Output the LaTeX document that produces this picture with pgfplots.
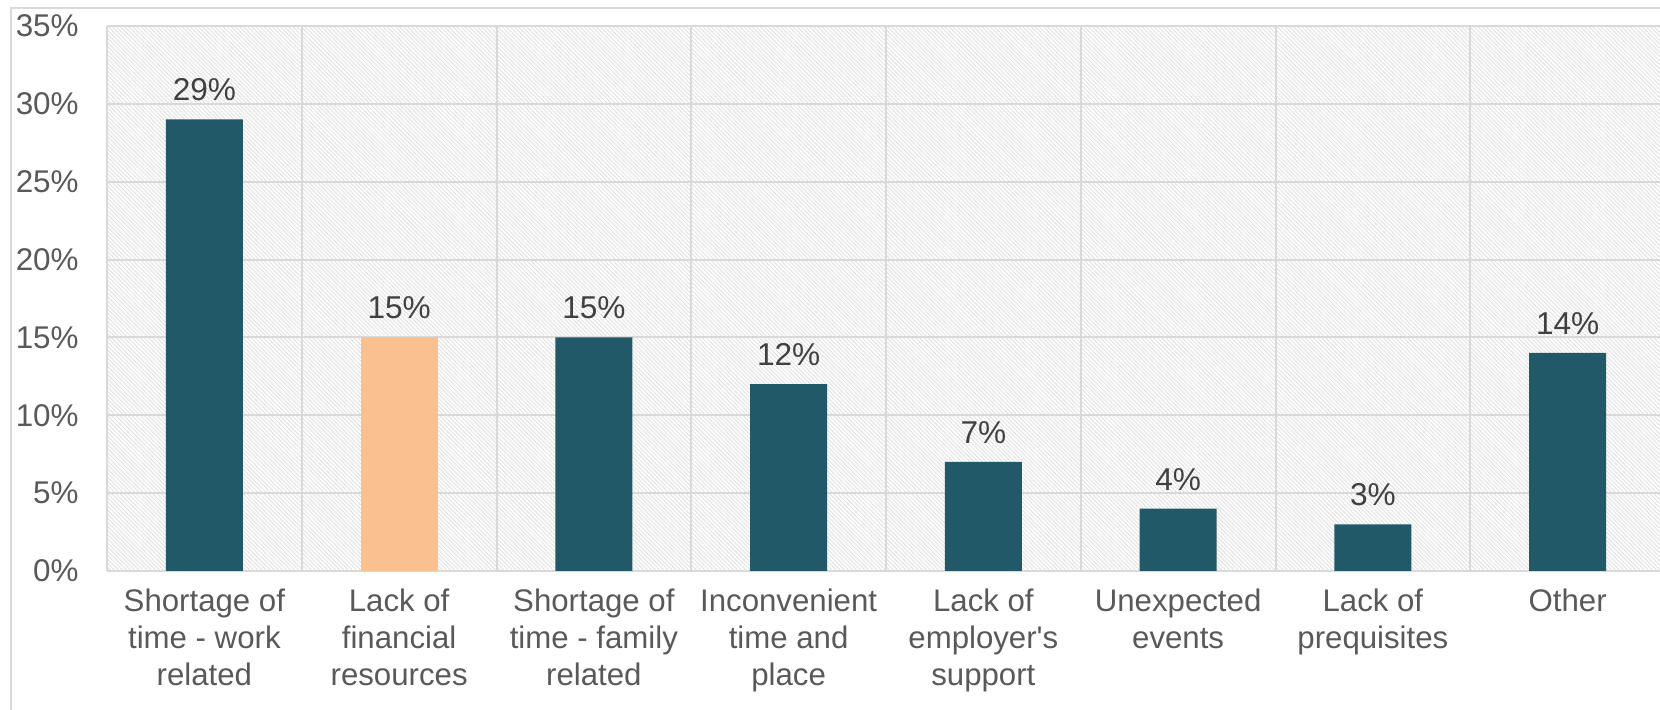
\documentclass[border=0pt]{standalone}
\usepackage{pgfplots}
\pgfplotsset{compat=1.18}
\usepackage{fontspec}
\setmainfont{Liberation Sans}
\newfontfamily\plainfont{Liberation Sans}
\usetikzlibrary{patterns.meta}
\definecolor{barteal}{HTML}{215968}
\definecolor{barorange}{HTML}{FAC090}
\definecolor{txtgray}{HTML}{595959}
\definecolor{lblgray}{HTML}{404040}
\definecolor{gridgray}{HTML}{D9D9D9}
\definecolor{hatchgray}{HTML}{E2E2E2}
\begin{document}
\begin{tikzpicture}[x=1pt,y=1pt]
\useasboundingbox (0,0) rectangle (830,355);
\draw[gridgray, line width=1pt] (5.5,-20) rectangle (850,351);
\begin{axis}[
  at={(53.5pt,69.5pt)}, anchor=south west,
  scale only axis, width=779pt, height=272.5pt,
  ymin=0, ymax=35, xmin=-0.5, xmax=7.5,
  enlargelimits=false,
  ybar, bar width=38.5pt, bar shift=0pt,
  axis background/.style={pattern={Lines[angle=-45,distance=1.45pt,line width=0.5pt]}, pattern color=hatchgray},
  ytick={0,5,...,35},
  yticklabel={\pgfmathprintnumber{\tick}\%},
  /pgf/number format/assume math mode=true,
  xtick={0,...,7},
  xticklabels={{Shortage of\\time - work\\related},{Lack of\\financial\\resources},{Shortage of\\time - family\\related},{Inconvenient\\time and\\place},{Lack of\\employer{\plainfont '}s\\support},{Unexpected\\events},{Lack of\\prequisites},{Other}},
  minor xtick={-0.5,0.5,...,7.5},
  xminorgrids=true, ymajorgrids=true, xmajorgrids=false,
  grid style={gridgray, line width=1pt},
  minor grid style={gridgray, line width=1pt},
  major tick length=0pt, minor tick length=0pt,
  axis x line*=bottom, axis y line*=left,
  x axis line style={gridgray, line width=1.2pt, -},
  y axis line style={draw=none},
  yticklabel style={anchor=east, inner sep=0pt, xshift=-14pt, font=\fontsize{15.7}{18}\selectfont, text=txtgray},
  xticklabel style={anchor=north, inner sep=0pt, yshift=-9pt, align=center, font=\fontsize{15.6}{18.3}\selectfont, text=txtgray},
  nodes near coords={\pgfmathprintnumber{\pgfplotspointmeta}\%},
  nodes near coords style={anchor=south, inner sep=0pt, yshift=9pt, font=\fontsize{15.8}{18}\selectfont, text=lblgray},
  clip=false,
]
\addplot[fill=barteal, draw=none] coordinates {(0,29) (2,15) (3,12) (4,7) (5,4) (6,3) (7,14)};
\addplot[fill=barorange, draw=none] coordinates {(1,15)};
\end{axis}
\end{tikzpicture}
\end{document}
